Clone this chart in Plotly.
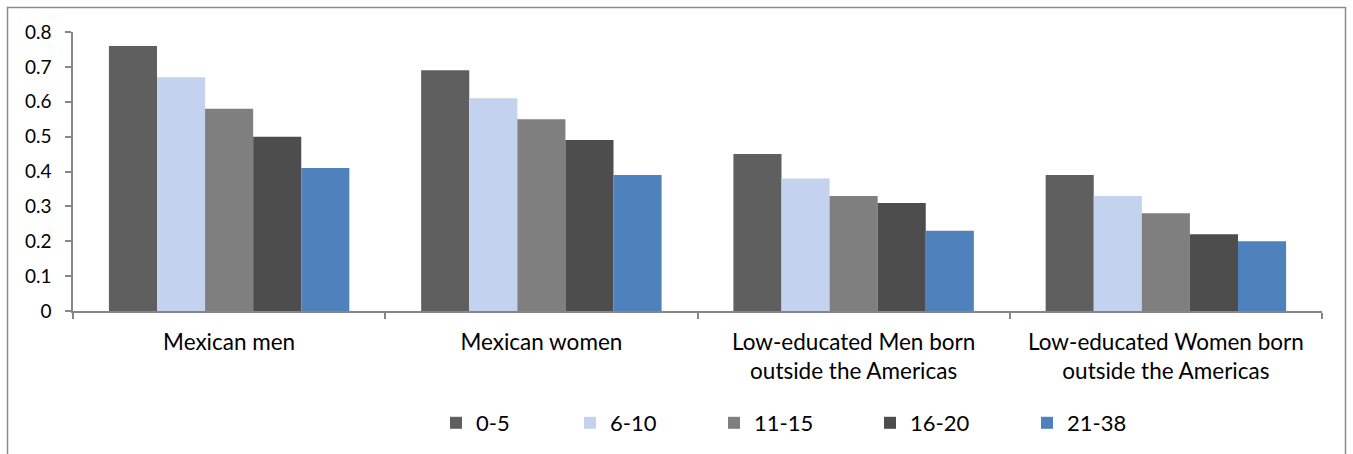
import plotly.graph_objects as go

categories = ["Mexican men", "Mexican women",
              "Low-educated Men born<br>outside the Americas",
              "Low-educated Women born<br>outside the Americas"]
series_names = ["0-5", "6-10", "11-15", "16-20", "21-38"]
v_0_5 = [0.76, 0.69, 0.45, 0.39]
v_6_10 = [0.67, 0.61, 0.38, 0.33]
v_11_15 = [0.58, 0.55, 0.33, 0.28]
v_16_20 = [0.50, 0.49, 0.31, 0.22]
v_21_38 = [0.41, 0.39, 0.23, 0.20]
y_ticks = [0, 0.1, 0.2, 0.3, 0.4, 0.5, 0.6, 0.7, 0.8]

colors = ["#5f5f5f", "#c3d2ef", "#7f7f7f", "#4d4d4d", "#4f81bd"]
values = [v_0_5, v_6_10, v_11_15, v_16_20, v_21_38]
# pixel centre of each legend swatch
legend_px = [456, 590, 734, 890, 1047]

W, H = 1353, 454
ML, MR, MT, MB = 73, 31, 32, 143
FONT = "Lato"
pw = W - ML - MR
ph = H - MT - MB

fig = go.Figure()
legend_layouts = {}
for i, (name, vals, col) in enumerate(zip(series_names, values, colors)):
    lname = "legend" if i == 0 else f"legend{i + 1}"
    fig.add_trace(go.Bar(x=categories, y=vals, name=name, legend=lname,
                         marker=dict(color=col, line=dict(width=0))))
    legend_layouts[lname] = dict(
        orientation="h", x=(legend_px[i] - 20 - ML) / pw, xanchor="left",
        y=(H - MB - 423) / ph, yanchor="middle",
        font=dict(size=22, family=FONT), bgcolor="rgba(0,0,0,0)")

# chart border
fig.add_shape(type="rect", xref="paper", yref="paper",
              x0=(7.5 - ML) / pw, x1=(1345.5 - ML) / pw,
              y0=(H - MB - 470) / ph, y1=(H - MB - 7.5) / ph,
              line=dict(color="#8c8c8c", width=1.5), fillcolor="rgba(0,0,0,0)",
              layer="below")

fig.update_layout(
    width=W, height=H,
    margin=dict(l=ML, r=MR, t=MT, b=MB, autoexpand=False),
    paper_bgcolor="white", plot_bgcolor="white",
    barmode="group", bargap=0.23, bargroupgap=0,
    font=dict(family=FONT, color="#000000"),
    showlegend=True,
    xaxis=dict(showline=True, linecolor="#868686", linewidth=1.5,
               ticks="outside", ticklen=6, tickcolor="#868686", tickwidth=1.5,
               tickson="boundaries", showgrid=False, zeroline=False,
               tickangle=0, automargin=False, ticklabelstandoff=10,
               tickfont=dict(size=22.5, family=FONT), fixedrange=True),
    yaxis=dict(range=[0, 0.8], tickvals=y_ticks,
               ticktext=["0" if t == 0 else f"{t:.1f}" for t in y_ticks],
               showline=True, linecolor="#868686", linewidth=1.5,
               ticks="outside", ticklen=6, tickcolor="#868686", tickwidth=1.5,
               showgrid=False, zeroline=False, ticklabelstandoff=10,
               automargin=False,
               tickfont=dict(size=19, family=FONT)),
    **legend_layouts,
)

fig.write_html("out.html")
